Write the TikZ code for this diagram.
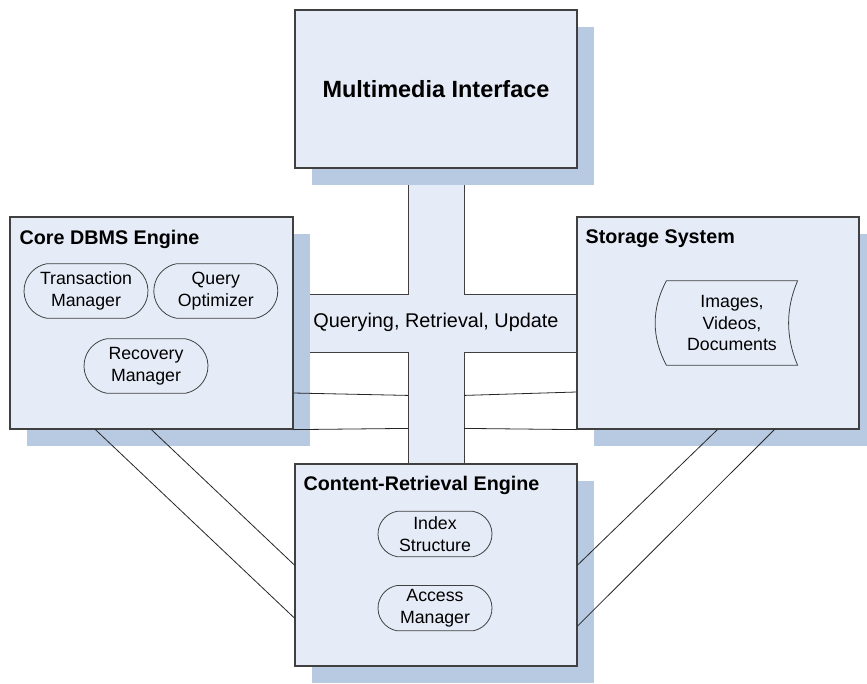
\documentclass[tikz,border=0pt]{standalone}
\usepackage{fontspec}
\setmainfont{Liberation Sans}
\usepackage{xcolor}
\usepackage{tikz}
\usetikzlibrary{calc,positioning,shadows,shapes.misc,backgrounds}
\definecolor{paneblue}{HTML}{E6ECF7}
\definecolor{shadeblue}{HTML}{B8C9E2}
\definecolor{edgegray}{HTML}{404040}
\tikzset{
  panel/.style={rectangle,draw=edgegray,line width=0.9pt,fill=paneblue,inner sep=0pt,
    drop shadow={shadow xshift=12.75pt,shadow yshift=-12.75pt,fill=shadeblue,opacity=1}},
  part/.style={rounded rectangle,rounded rectangle arc length=160,draw=edgegray,
    line width=0.6pt,fill=paneblue,inner sep=0pt,minimum width=93pt,minimum height=41pt,
    align=center,font=\fontsize{13.3}{16.3}\selectfont},
  paneltitle/.style={anchor=west,inner sep=0pt,font=\bfseries\fontsize{14.8}{18}\selectfont},
  link/.style={draw=black!85,line width=0.6pt},
}

\begin{document}
\begin{tikzpicture}[x=0.75pt,y=-0.75pt,
  bar/.style={draw=edgegray,line width=0.6pt}]
  \useasboundingbox (0,0) rectangle (867,683);

  % the four panels
  \node[panel,minimum width=211.5pt,minimum height=118.5pt,
    font=\bfseries\fontsize{17.6}{21}\selectfont] (mmi) at (436,89) {Multimedia Interface};
  \node[panel,minimum width=212.25pt,minimum height=159pt] (core) at (151.5,323) {};
  \node[panel,minimum width=211.5pt,minimum height=159pt] (store) at (718,323) {};
  \node[panel,minimum width=211.5pt,minimum height=151.5pt] (cre) at (436,565) {};

  \node[paneltitle] (coreT) at ($(core.north west)+(10,23)$) {Core DBMS Engine};
  \node[paneltitle] (storeT) at ($(store.north west)+(9,22)$) {Storage System};
  \node[paneltitle] (creT) at ($(cre.north west)+(9,22)$) {Content-Retrieval Engine};

  % parts inside the engines
  \node[part] (txn) at (86,291) {Transaction\\Manager};
  \node[part,right=3.75pt of txn] (qopt) {Query\\Optimizer};
  \node[part] (recov) at (146,366) {Recovery\\Manager};
  \node[part,minimum width=85.5pt,minimum height=34pt] (index) at (435,534) {Index\\Structure};
  \node[part,minimum width=85.5pt,minimum height=34pt,below=21pt of index] (access) {Access\\Manager};

  % stored data
  \node[inner sep=0pt,minimum width=98pt,minimum height=63pt,align=center,
    font=\fontsize{13.3}{16.2}\selectfont] (media) at (732,323) {Images,\\Videos,\\Documents};
  \draw[bar] (media.north west) .. controls +(-15,28) and +(-15,-28) .. (media.south west)
    -- (media.south east) .. controls +(-12,-28) and +(-12,28) .. (media.north east) -- cycle;

  % cross-shaped channel behind the panels
  \coordinate (vtl) at ($(mmi.south)+(-28,0)$);
  \coordinate (vtr) at ($(mmi.south)+(28,0)$);
  \coordinate (vbl) at ($(cre.north)+(-28,0)$);
  \coordinate (vbr) at ($(cre.north)+(28,0)$);
  \coordinate (hlt) at ($(core.east)+(0,-29)$);
  \coordinate (hlb) at ($(core.east)+(0,29)$);
  \coordinate (hrt) at ($(store.west)+(0,-29)$);
  \coordinate (hrb) at ($(store.west)+(0,29)$);
  \begin{scope}[on background layer]
    \fill[paneblue] (vtl) rectangle (vbr);
    \fill[paneblue] (hlt) rectangle (hrb);
    \draw[bar] (vtl) -- (vtl |- hlt) -- (hlt);
    \draw[bar] (vtr) -- (vtr |- hrt) -- (hrt);
    \draw[bar] (hlb) -- (vbl |- hlb) -- (vbl);
    \draw[bar] (hrb) -- (vbr |- hrb) -- (vbr);
  \end{scope}
  \node[font=\fontsize{14.9}{18}\selectfont] (qru) at (436,322) {Querying, Retrieval, Update};

  % links
  \draw[link] ($(core.east)+(0,70)$) -- ($(vbl)+(0,-68)$);
  \draw[link] (core.south east) -- ($(vbl)+(0,-35)$);
  \draw[link] ($(store.west)+(0,69)$) -- ($(vbr)+(0,-68)$);
  \draw[link] (store.south west) -- ($(vbr)+(0,-35)$);
  \draw[link] ($(core.south west)+(86,0)$) -- ($(cre.west)+(0,53)$);
  \draw[link] ($(core.south west)+(142,0)$) -- (cre.west);
  \draw[link] ($(store.south west)+(141,0)$) -- (cre.east);
  \draw[link] ($(store.south west)+(198,0)$) -- ($(cre.east)+(0,61)$);
\end{tikzpicture}
\end{document}
